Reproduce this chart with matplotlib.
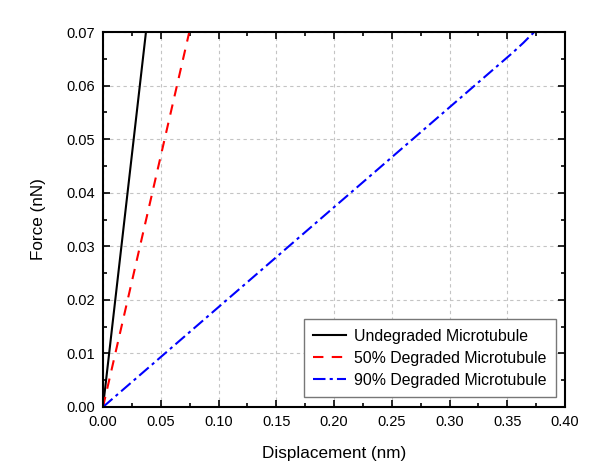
import matplotlib
matplotlib.use("Agg")
import matplotlib.pyplot as plt
from matplotlib.ticker import MultipleLocator

plt.rcParams['font.family'] = ['Liberation Sans', 'DejaVu Sans']

# Data
undeg_x = [0.0, 0.0372]
undeg_y = [0.0, 0.070]
deg50_x = [0.0, 0.0747]
deg50_y = [0.0, 0.070]
deg90_x = [0.0, 0.355, 0.364, 0.370, 0.3735]
deg90_y = [0.0, 0.0662, 0.0680, 0.0693, 0.070]

labels = ["Undegraded Microtubule", "50% Degraded Microtubule", "90% Degraded Microtubule"]

fig = plt.figure(figsize=(5.94, 4.71), dpi=100)
ax = fig.add_axes([0.1734, 0.1359, 0.7778, 0.7961])

ax.plot(undeg_x, undeg_y, color='black', lw=1.5, ls='-', label=labels[0])
ax.plot(deg50_x, deg50_y, color='red', lw=1.5, ls=(0, (5, 4)), label=labels[1])
ax.plot(deg90_x, deg90_y, color='blue', lw=1.5, ls=(0, (6, 2, 1.5, 2)), label=labels[2])

ax.set_xlim(0, 0.40)
ax.set_ylim(0, 0.07)
ax.xaxis.set_major_locator(MultipleLocator(0.05))
ax.xaxis.set_minor_locator(MultipleLocator(0.025))
ax.yaxis.set_major_locator(MultipleLocator(0.01))
ax.yaxis.set_minor_locator(MultipleLocator(0.005))
ax.xaxis.set_major_formatter(plt.FormatStrFormatter('%.2f'))
ax.yaxis.set_major_formatter(plt.FormatStrFormatter('%.2f'))

ax.tick_params(which='both', direction='in', top=True, right=True, width=1.2)
ax.tick_params(which='major', length=5, labelsize=10.5, pad=6)
ax.tick_params(which='minor', length=3)
for s in ax.spines.values():
    s.set_linewidth(1.5)

ax.grid(True, which='major', ls=(0, (3, 3)), color='#c4c4c4', lw=0.8)
ax.set_axisbelow(True)

ax.set_xlabel('Displacement (nm)', fontsize=12.3, labelpad=12)
ax.set_ylabel('Force (nN)', fontsize=12.3, labelpad=14)

leg = ax.legend(loc='lower right', fontsize=11.4, fancybox=False, frameon=True,
                edgecolor='#777777', framealpha=1, handlelength=2.1,
                handletextpad=0.45, borderpad=0.6, labelspacing=0.45,
                borderaxespad=0.6)
leg.get_frame().set_linewidth(1.0)

fig.savefig('out.png', dpi=100)
